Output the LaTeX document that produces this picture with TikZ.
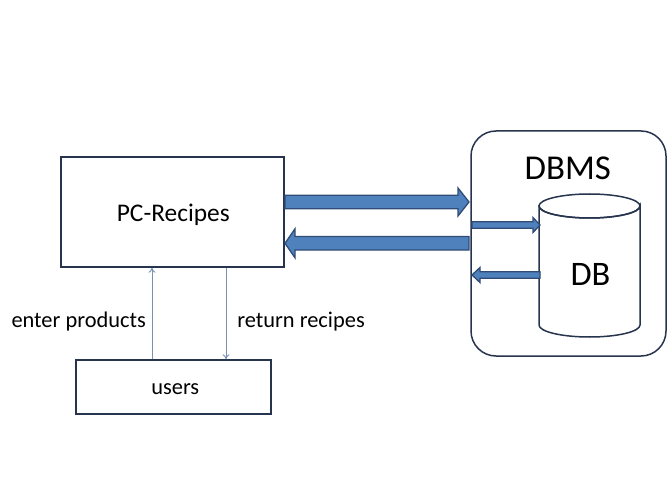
\documentclass[tikz,border=0pt]{standalone}
\usepackage{fontspec}
\setmainfont{Carlito}
\usetikzlibrary{calc,arrows.meta}
\definecolor{boxline}{RGB}{38,52,78}
\definecolor{bafill}{RGB}{79,129,189}
\definecolor{baline}{RGB}{48,76,118}
\definecolor{thinc}{RGB}{120,145,178}
\tikzset{
  boxnode/.style={draw=boxline,line width=1.5bp,fill=white,inner sep=0pt},
  lbl/.style={anchor=base,inner sep=0pt,text=black},
  blk/.style={fill=bafill,draw=baline,line width=1.3bp,line join=miter},
  thinarr/.style={draw=thinc,line width=0.9bp,-{To[length=5bp,width=7bp]}}
}
% #1 start, #2 end (same y), #3 shaft half, #4 head half, #5 signed head length
\newcommand\blockarr[5]{%
  \filldraw[blk] ($(#1)+(0,-#3)$) -- ($(#2)+({-(#5)},-#3)$) -- ($(#2)+({-(#5)},-#4)$) -- (#2)
    -- ($(#2)+({-(#5)},#4)$) -- ($(#2)+({-(#5)},#3)$) -- ($(#1)+(0,#3)$) -- cycle;}
\begin{document}
\begin{tikzpicture}[x=1bp,y=-1bp]
\useasboundingbox (0,0) rectangle (672,504);
% boxes
\node[boxnode,minimum width=223bp,minimum height=110bp] (pc) at (172.5,212) {};
\node[boxnode,minimum width=195bp,minimum height=54bp] (users) at (173.5,387) {};
\node[boxnode,rounded corners=25bp,minimum width=195bp,minimum height=225bp] (dbms) at (568.5,243.5) {};
% cylinder DB
\coordinate (dbtl) at (539,206);
\coordinate (dbtr) at (640,206);
\draw[draw=boxline,line width=1.5bp,fill=white]
  (dbtl) -- (539,325) arc[start angle=180,end angle=0,x radius=50.5,y radius=12] -- (dbtr)
  arc[start angle=0,end angle=180,x radius=50.5,y radius=12] -- cycle;
\draw[draw=boxline,line width=1.5bp] (589.5,206) ellipse[x radius=50.5,y radius=12];
% texts
\node[lbl,font=\fontsize{25.5}{30}\selectfont] (pct) at (173.3,221.7) {PC-Recipes};
\node[lbl,font=\fontsize{22.5}{26}\selectfont] (ust) at (175.3,394) {users};
\node[lbl,font=\fontsize{22.5}{26}\selectfont] (ent) at (78.7,327) {enter products};
\node[lbl,font=\fontsize{22.5}{26}\selectfont] (ret) at (301,327) {return recipes};
\node[lbl,font=\fontsize{35}{40}\selectfont] (dbmst) at (567.8,179.3) {DBMS};
\node[lbl,font=\fontsize{34.5}{40}\selectfont] (dbt) at (590.5,285.7) {DB};
% thin arrows
\coordinate (ux) at (152,0);
\coordinate (dx) at (226,0);
\draw[thinarr] (users.north -| ux) -- (pc.south -| ux);
\draw[thinarr] (pc.south -| dx) -- (users.north -| dx);
% block arrows
\coordinate (a1s) at (285,202);   \coordinate (a1e) at (469,202);
\coordinate (a2s) at (469,243.3); \coordinate (a2e) at (285,243.3);
\coordinate (a3s) at (472,225);   \coordinate (a3e) at (540,225);
\coordinate (a4s) at (540,275);   \coordinate (a4e) at (472,275);
\blockarr{a1s}{a1e}{6.7}{14}{11}
\blockarr{a2s}{a2e}{6.7}{14.5}{-10}
\blockarr{a3s}{a3e}{3.3}{7.5}{7}
\blockarr{a4s}{a4e}{3.3}{7.5}{-8}
\end{tikzpicture}
\end{document}
